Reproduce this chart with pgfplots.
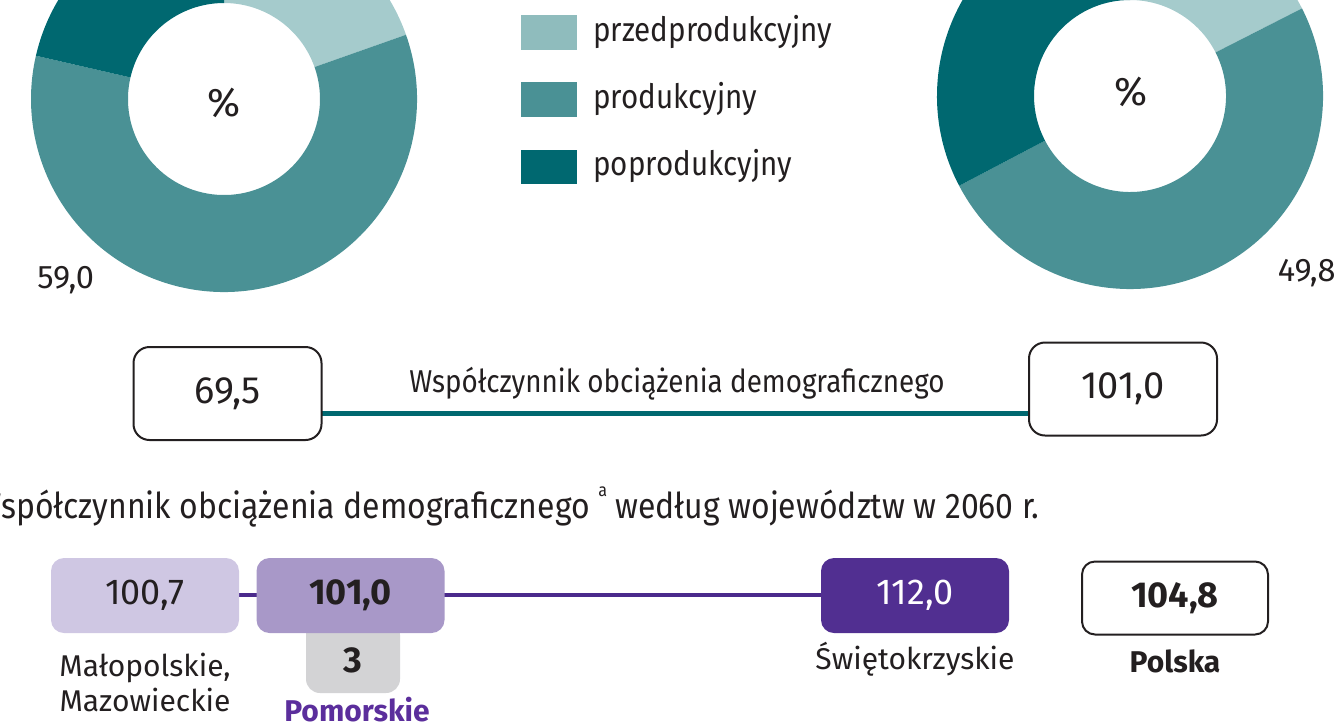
\documentclass[border=0pt]{standalone}
\usepackage{pgfplots}
\pgfplotsset{compat=1.18}
\usepackage{pgfplotstable}
\usepackage{fontspec}
\setmainfont{Fira Sans}
\newfontfamily\cond[FakeStretch=0.88]{Fira Sans}
\newfontfamily\condt[FakeStretch=0.897]{Fira Sans}

\definecolor{przed}{HTML}{A5CBCC}
\definecolor{przedL}{HTML}{8FBCBD}
\definecolor{prod}{HTML}{4A9195}
\definecolor{popr}{HTML}{006870}
\definecolor{fiolA}{HTML}{CFC7E3}
\definecolor{fiolB}{HTML}{A898C8}
\definecolor{fiolC}{HTML}{512F91}
\definecolor{linia}{HTML}{4B2A8C}
\definecolor{szary}{HTML}{D3D3D5}
\definecolor{pomor}{HTML}{5B2E9C}
\definecolor{tekst}{HTML}{231F20}

\pgfdeclareplotmark{empty}{}

% struktura ludnosci wg ekonomicznych grup wieku (%), c: 1 przed, 2 prod, 3 popr
\pgfplotstableread{
x   y  share c
224 99 19.6  1
224 99 59.0  2
224 99 21.4  3
}\donutA
\pgfplotstableread{
x    y  share c
1130 96 17.5  1
1130 96 49.8  2
1130 96 32.7  3
}\donutB

% wspolczynnik obciazenia demograficznego, st: styl ramki
\pgfplotstableread{
x      y     v     st
227.5  393.5 69.5  1
1123   389   101.0 1
}\wspol
\pgfplotstableread{
x      y     v     st
145    595.5 100.7 2
350.5  595.5 101.0 3
915    595.5 112.0 4
1175   598   104.8 5
}\woj

\tikzset{
  boxbase/.style={rectangle, rounded corners=6.5pt, minimum width=94pt,
    minimum height=37.5pt, inner sep=0pt, text=tekst,
    font=\fontsize{18}{20}\selectfont},
  box1/.style={boxbase, draw=tekst, line width=1pt, fill=white,
    minimum width=94pt, minimum height=46.5pt, rounded corners=8pt,
    font=\fontsize{19}{21}\selectfont},
  box2/.style={boxbase, fill=fiolA},
  box3/.style={boxbase, fill=fiolB, font=\fontsize{18}{20}\selectfont\bfseries},
  box4/.style={boxbase, fill=fiolC, text=white},
  box5/.style={boxbase, draw=tekst, line width=1pt, fill=white,
    minimum width=93pt, minimum height=36.5pt,
    font=\fontsize{18}{20}\selectfont\bfseries},
  lab/.style={text=tekst, inner sep=0pt, font=\fontsize{15}{17}\selectfont},
  leg/.style={text=tekst, inner sep=0pt, anchor=west, font=\cond\fontsize{16.8}{18}\selectfont},
}

\pgfplotsset{
  donut/.style={scatter, only marks, mark=empty, point meta=x,
    execute at begin plot visualization={\gdef\acc{0}},
    visualization depends on={\thisrow{share}\as\sh},
    visualization depends on={\thisrow{c}\as\ci},
    scatter/@pre marker code/.code={%
      \pgfmathtruncatemacro\cii{\ci}%
      \edef\cn{\ifcase\cii\or przed\or prod\or popr\fi}%
      \pgfmathsetmacro\sa{90-3.6*\acc}%
      \pgfmathsetmacro\ea{90-3.6*(\acc+\sh)}%
      \path[fill=\cn, draw=none] (\sa:96.5pt) arc[start angle=\sa, end angle=\ea, radius=96.5pt]
        -- (\ea:48pt) arc[start angle=\ea, end angle=\sa, radius=48pt] -- cycle;
      \pgfmathsetmacro\nacc{\acc+\sh}\global\let\acc\nacc},
    scatter/@post marker code/.code={}},
  boxes/.style={scatter, only marks, mark=empty, point meta=x,
    visualization depends on={\thisrow{v}\as\val},
    visualization depends on={\thisrow{st}\as\st},
    scatter/@pre marker code/.code={%
      \pgfmathtruncatemacro\sti{\st}%
      \edef\tmp{\noexpand\node[box\sti]}%
      \tmp{\pgfmathprintnumber[fixed,fixed zerofill,precision=1,use comma,assume math mode=true]{\val}};},
    scatter/@post marker code/.code={}},
}

\begin{document}
\begin{tikzpicture}
\useasboundingbox (0,0) rectangle (668pt,362.5pt);
\clip (0,0) rectangle (668pt,362.5pt);
\begin{axis}[at={(0,0)}, anchor=south west, scale only axis,
  width=668pt, height=362.5pt, xmin=0, xmax=1336, ymin=0, ymax=725,
  y dir=reverse, hide axis, clip=false]

% polpierscienie
\addplot[donut] table {\donutA};
\addplot[donut] table {\donutB};

% linie laczace
\addplot[popr, line width=2.5pt] coordinates {(322,413) (1029,413)};
\addplot[linia, line width=2pt] coordinates {(239,595) (821,595)};

% zakladka z pozycja
\node[fill=szary, rounded corners=7pt, minimum width=47pt, minimum height=36pt, inner sep=0pt]
  at (353,657) {};

\addplot[boxes] table {\wspol};
\addplot[boxes] table {\woj};

% teksty
\node[lab, font=\fontsize{20}{22}\selectfont] at (224,103) {\%};
\node[lab, font=\fontsize{20}{22}\selectfont] at (1131,92) {\%};
\node[lab, anchor=base west, font=\fontsize{16.3}{18}\selectfont] at (37,288) {59,0};
\node[lab, anchor=base east, font=\fontsize{16.3}{18}\selectfont] at (1336,281) {49,8};

\fill[przedL] (521,15) rectangle (577,50);
\fill[prod] (521,82) rectangle (577,117);
\fill[popr] (521,150) rectangle (577,184);
\node[leg] at (593,32) {przedprodukcyjny};
\node[leg] at (593,99) {produkcyjny};
\node[leg] at (593,166) {poprodukcyjny};

\node[lab, anchor=base, font=\cond\fontsize{15.8}{17}\selectfont] at (677,392) {Współczynnik obciążenia demograficznego};

\node[lab, anchor=base east, font=\condt\fontsize{17.8}{20}\selectfont] at (1040,518)
  {Współczynnik obciążenia demograficznego \raisebox{0.6em}{\fontsize{9}{10}\selectfont a} według województw w 2060 r.};

\node[lab, font=\fontsize{18}{20}\selectfont\bfseries] at (353,660) {3};
\node[lab, anchor=base] at (145,676) {Małopolskie,};
\node[lab, anchor=base] at (145,711) {Mazowieckie};
\node[lab, anchor=base, text=pomor, font=\fontsize{15}{17}\selectfont\bfseries] at (357,721) {Pomorskie};
\node[lab, anchor=base] at (915,669) {Świętokrzyskie};
\node[lab, anchor=base, font=\fontsize{15}{17}\selectfont\bfseries] at (1175,672) {Polska};
\end{axis}
\end{tikzpicture}
\end{document}
